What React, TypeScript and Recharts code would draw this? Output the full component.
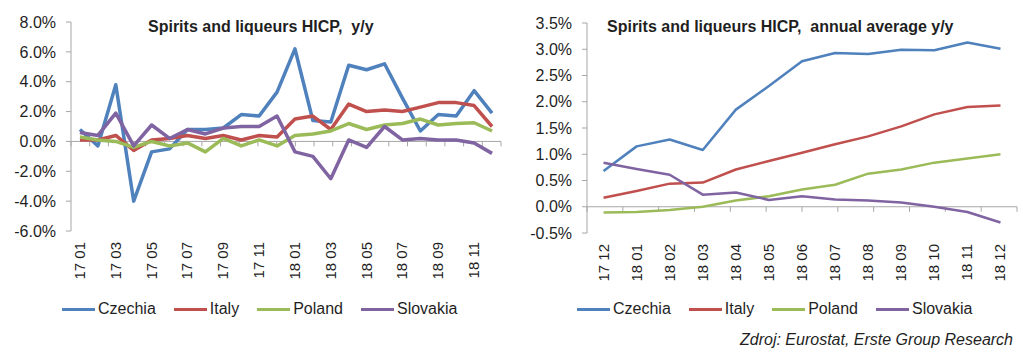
import { LineChart, Line, XAxis, YAxis, ReferenceLine } from 'recharts';

const FONT = '"Liberation Sans", Arial, sans-serif';
const AXIS = '#a6a6a6';
const INK = '#1f1f1f';

const SERIES = ['Czechia', 'Italy', 'Poland', 'Slovakia'];
const COLORS = ['#4f81bd', '#c0504d', '#9bbb59', '#8064a2'];

// monthly y/y, %
const monthsYY = [
  '17 01', '17 02', '17 03', '17 04', '17 05', '17 06', '17 07', '17 08', '17 09', '17 10', '17 11', '17 12',
  '18 01', '18 02', '18 03', '18 04', '18 05', '18 06', '18 07', '18 08', '18 09', '18 10', '18 11', '18 12',
];
const czechiaYY = [0.8, -0.3, 3.8, -4.0, -0.7, -0.5, 0.8, 0.8, 0.9, 1.8, 1.7, 3.3, 6.2, 1.4, 1.3, 5.1, 4.8, 5.2, 2.9, 0.7, 1.8, 1.7, 3.4, 1.9];
const italyYY = [0.1, 0.1, 0.4, -0.6, 0.1, 0.2, 0.4, 0.2, 0.4, 0.1, 0.4, 0.3, 1.5, 1.7, 0.8, 2.5, 2.0, 2.1, 2.0, 2.3, 2.6, 2.6, 2.4, 1.0];
const polandYY = [0.3, 0.1, 0.0, -0.4, 0.0, -0.3, -0.1, -0.7, 0.2, -0.3, 0.1, -0.3, 0.4, 0.5, 0.7, 1.2, 0.8, 1.1, 1.2, 1.5, 1.1, 1.2, 1.25, 0.7];
const slovakiaYY = [0.6, 0.4, 1.9, -0.3, 1.1, 0.2, 0.8, 0.5, 0.9, 1.0, 1.0, 1.7, -0.7, -1.0, -2.5, 0.1, -0.4, 1.0, 0.1, 0.2, 0.1, 0.1, -0.1, -0.8];
const ticksYY = [-6, -4, -2, 0, 2, 4, 6, 8];

// annual average y/y, %
const monthsAvg = ['17 12', '18 01', '18 02', '18 03', '18 04', '18 05', '18 06', '18 07', '18 08', '18 09', '18 10', '18 11', '18 12'];
const czechiaAvg = [0.68, 1.15, 1.28, 1.08, 1.85, 2.3, 2.77, 2.93, 2.91, 2.99, 2.98, 3.13, 3.01];
const italyAvg = [0.17, 0.3, 0.44, 0.46, 0.71, 0.87, 1.03, 1.19, 1.34, 1.53, 1.76, 1.9, 1.93];
const polandAvg = [-0.11, -0.1, -0.06, 0.0, 0.12, 0.2, 0.33, 0.42, 0.63, 0.71, 0.84, 0.92, 1.0];
const slovakiaAvg = [0.84, 0.72, 0.61, 0.23, 0.27, 0.13, 0.2, 0.14, 0.12, 0.08, 0.0, -0.1, -0.3];
const ticksAvg = [-0.5, 0, 0.5, 1, 1.5, 2, 2.5, 3, 3.5];

function toRows(labels: string[], cols: number[][]) {
  return labels.map((m, i) => {
    const row: Record<string, string | number> = { m };
    SERIES.forEach((s, k) => (row[s] = cols[k][i]));
    return row;
  });
}

const rowsYY = toRows(monthsYY, [czechiaYY, italyYY, polandYY, slovakiaYY]);
const rowsAvg = toRows(monthsAvg, [czechiaAvg, italyAvg, polandAvg, slovakiaAvg]);

function XTick({ x, y, payload }: any) {
  return (
    <text
      x={x}
      y={y}
      dy={5}
      textAnchor="end"
      transform={`rotate(-90 ${x} ${y})`}
      fontSize={15}
      fontFamily={FONT}
      fill={INK}
    >
      {payload.value}
    </text>
  );
}

interface PanelProps {
  rows: Record<string, string | number>[];
  ticks: number[];
  width: number;
  height: number;
  margin: { top: number; right: number; bottom: number; left: number };
  yWidth: number;
  tickDrop: number;
  strokeWidth: number;
}

function Panel({ rows, ticks, width, height, margin, yWidth, tickDrop, strokeWidth }: PanelProps) {
  const n = rows.length;
  const bounds = Array.from({ length: n + 1 }, (_, i) => i);
  return (
    <LineChart width={width} height={height} data={rows} margin={margin}>
      <XAxis
        dataKey="m"
        scale="band"
        interval={0}
        height={50}
        axisLine={false}
        tickLine={false}
        tickSize={0}
        tickMargin={11}
        tick={<XTick />}
        ticks={rows.filter((_, i) => n < 20 || i % 2 === 0).map((r) => r.m as string)}
      />
      <XAxis xAxisId="b" type="number" domain={[0, n]} allowDataOverflow hide />
      <YAxis
        width={yWidth}
        domain={[ticks[0], ticks[ticks.length - 1]]}
        ticks={ticks}
        interval={0}
        axisLine={{ stroke: AXIS }}
        tickLine={{ stroke: AXIS }}
        tickSize={5}
        tickMargin={10}
        tickFormatter={(v: number) => `${v.toFixed(1)}%`}
        tick={{ fontSize: 16, fill: INK, fontFamily: FONT }}
      />
      <ReferenceLine y={0} stroke={AXIS} />
      {bounds.map((i) => (
        <ReferenceLine
          key={i}
          xAxisId="b"
          segment={[{ x: i, y: 0 }, { x: i, y: -tickDrop }]}
          stroke={AXIS}
        />
      ))}
      {SERIES.map((s, k) => (
        <Line
          key={s}
          dataKey={s}
          stroke={COLORS[k]}
          strokeWidth={strokeWidth}
          strokeLinejoin="round"
          dot={false}
          isAnimationActive={false}
        />
      ))}
    </LineChart>
  );
}

function LegendRow({ left }: { left: number }) {
  return (
    <div
      style={{
        position: 'absolute',
        left,
        top: 300,
        height: 18,
        display: 'flex',
        alignItems: 'center',
        gap: 18,
        fontFamily: FONT,
        fontSize: 16,
        color: INK,
      }}
    >
      {SERIES.map((s, k) => (
        <div key={s} style={{ display: 'flex', alignItems: 'center' }}>
          <span style={{ display: 'inline-block', width: 33, height: 3, background: COLORS[k], marginRight: 3 }} />
          <span>{s}</span>
        </div>
      ))}
    </div>
  );
}

const titleStyle: React.CSSProperties = {
  position: 'absolute',
  fontFamily: FONT,
  fontWeight: 'bold',
  fontSize: 16,
  lineHeight: '16px',
  color: INK,
  whiteSpace: 'pre',
};

export default function App() {
  return (
    <div style={{ position: 'absolute', left: 0, top: 0, width: 1023, height: 355, background: '#fff', overflow: 'hidden' }}>
      <div style={{ position: 'absolute', left: 0, top: 0 }}>
        <Panel
          rows={rowsYY}
          ticks={ticksYY}
          width={510}
          height={300}
          margin={{ top: 22, right: 9, bottom: 19, left: 0 }}
          yWidth={71}
          tickDrop={0.33}
          strokeWidth={3.5}
        />
      </div>
      <div style={{ position: 'absolute', left: 510, top: 0 }}>
        <Panel
          rows={rowsAvg}
          ticks={ticksAvg}
          width={513}
          height={300}
          margin={{ top: 23, right: 6, bottom: 17, left: 0 }}
          yWidth={77}
          tickDrop={0.095}
          strokeWidth={2.5}
        />
      </div>
      <div style={{ ...titleStyle, left: 148, top: 19 }}>Spirits and liqueurs HICP,  y/y</div>
      <div style={{ ...titleStyle, left: 607, top: 19 }}>Spirits and liqueurs HICP,  annual average y/y</div>
      <LegendRow left={62} />
      <LegendRow left={577} />
      <div
        style={{
          position: 'absolute',
          right: 10,
          top: 331,
          fontFamily: FONT,
          fontStyle: 'italic',
          fontSize: 16,
          color: INK,
        }}
      >
        Zdroj: Eurostat, Erste Group Research
      </div>
    </div>
  );
}
